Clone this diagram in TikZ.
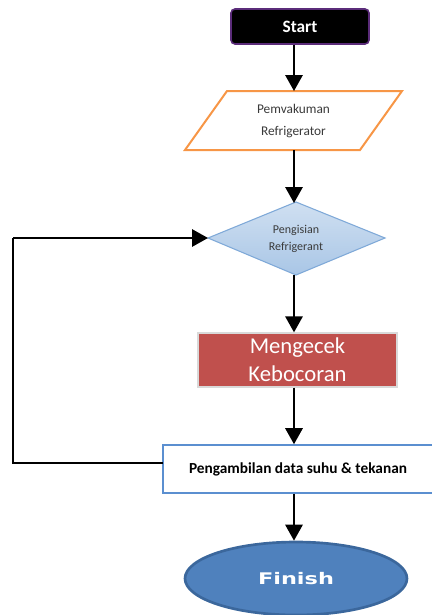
\documentclass[tikz,border=0pt]{standalone}
\usepackage{fontspec}
\setmainfont{Carlito}
\newfontfamily\finfont{DejaVu Sans}
\usetikzlibrary{arrows.meta,shapes.geometric}
\definecolor{startborder}{HTML}{5B2C7A}
\definecolor{paraorange}{HTML}{F79646}
\definecolor{diafill}{HTML}{A9C6E6}
\definecolor{diaborder}{HTML}{7FA9D8}
\definecolor{redfill}{HTML}{C0504D}
\definecolor{boxborder}{HTML}{5B8FD0}
\definecolor{ellfill}{HTML}{4F81BD}
\definecolor{ellborder}{HTML}{3B679C}
\definecolor{txtgray}{HTML}{3A3A3A}
\tikzset{
  arr/.style={line width=1.5pt,-{Triangle[length=12pt,width=13pt]}},
  loopline/.style={line width=1.5pt},
  startbox/.style={draw=startborder,line width=1.2pt,fill=black,rounded corners=3pt,minimum width=103.5pt,minimum height=26.25pt,text=white,font=\fontsize{13}{15}\selectfont\bfseries,inner sep=0pt},
  redbox/.style={draw=black!15,line width=1pt,fill=redfill,minimum width=149.25pt,minimum height=40.5pt,text=white,font=\fontsize{17}{21}\selectfont,align=center,inner sep=0pt},
  databox/.style={draw=boxborder,line width=1.2pt,fill=white,minimum width=202.5pt,minimum height=36pt,text=black,font=\fontsize{11.5}{13}\selectfont\bfseries,inner sep=0pt},
  ellnode/.style={ellipse,draw=ellborder,line width=2pt,fill=ellfill,minimum width=166.5pt,minimum height=54.75pt,text=white,inner sep=0pt},
}
\begin{document}
\begin{tikzpicture}[x=0.75pt,y=-0.75pt]
\useasboundingbox (0,0) rectangle (432,615);
% shapes
\node[startbox] (start) at (300,26.5) {Start};
\draw[paraorange,line width=1.5pt,fill=white] (227,91) -- (402,91) -- (360,150) -- (185,150) -- cycle;
\node[text=txtgray,font=\fontsize{10}{17}\selectfont,align=center] (para) at (293.5,121) {Pemvakuman\\Refrigerator};
\draw[diaborder,line width=0.8pt,top color=diafill!55!white,bottom color=diafill] (208,238) -- (296,202) -- (385,238) -- (296,275) -- cycle;
\node[text=txtgray,font=\fontsize{9}{12.5}\selectfont,align=center] (dia) at (296,239) {Pengisian\\Refrigerant};
\node[redbox] (red) at (297.5,360) {Mengecek\\Kebocoran};
\node[databox] (data) at (298,469) {Pengambilan data suhu \& tekanan};
\node[ellnode] (fin) at (296,578.5) {\finfont\bfseries\fontsize{12}{14}\selectfont\scalebox{1.4}[1]{Finish}};
% anchor coordinates
\coordinate (ax) at (294,0);
\coordinate (paratop) at (294,91);
\coordinate (parabot) at (294,150);
\coordinate (diatop) at (294,203);
\coordinate (diabot) at (294,275);
\coordinate (dialeft) at (208,238);
\coordinate (loopstart) at (163,463);
\coordinate (loopbl) at (13,463);
\coordinate (looptl) at (13,238);
% connectors
\draw[arr] (start.south -| ax) -- (paratop);
\draw[arr] (parabot) -- (diatop);
\draw[arr] (diabot) -- (red.north -| ax);
\draw[arr] (red.south -| ax) -- (data.north -| ax);
\draw[arr] (data.south -| ax) -- (fin.north -| ax);
\draw[loopline] (loopstart) -- (loopbl) -- (looptl);
\draw[arr] (looptl) -- (dialeft);
\end{tikzpicture}
\end{document}
